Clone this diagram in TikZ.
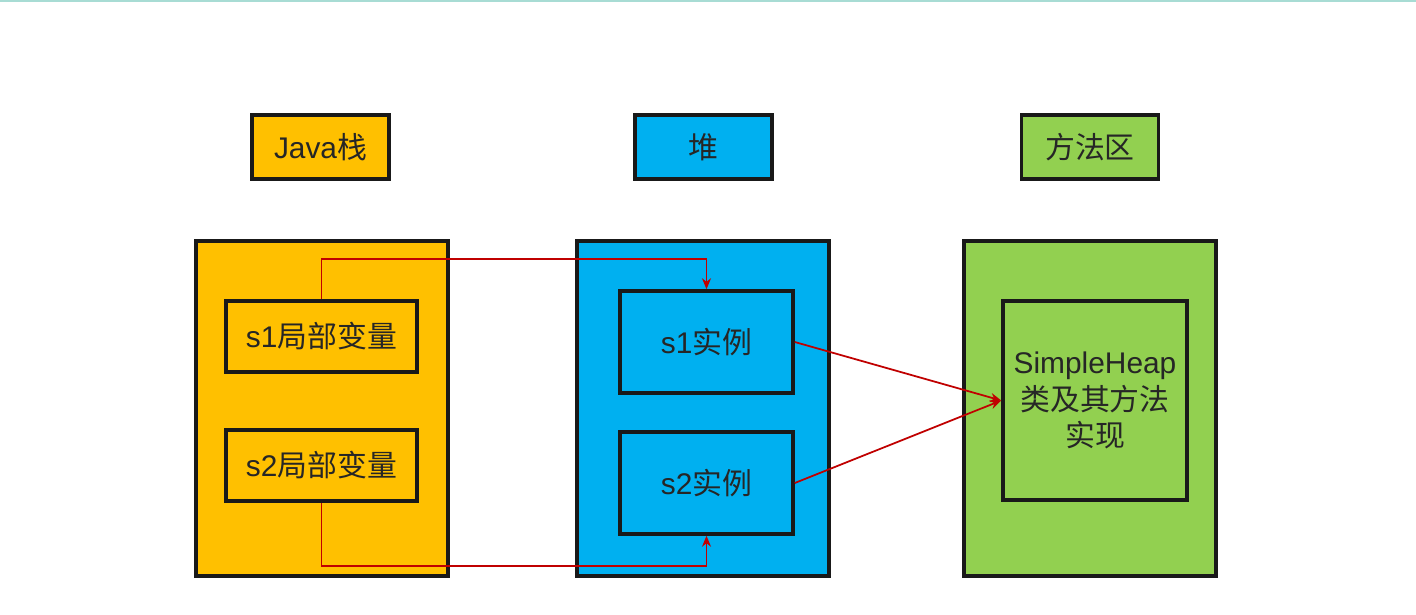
\documentclass[tikz,border=0pt]{standalone}
\usepackage{fontspec}
\setmainfont{Liberation Sans}
\newfontfamily\cjk{Noto Sans CJK SC}
\usepackage{tikz}
\usetikzlibrary{arrows.meta}

\definecolor{stackorange}{HTML}{FFC000}
\definecolor{heapblue}{HTML}{00B0F0}
\definecolor{methodgreen}{HTML}{92D050}
\definecolor{refred}{HTML}{C00000}
\definecolor{edgeteal}{HTML}{A8DCD4}

\tikzset{
	area/.style={draw=black!90, line width=2pt, text=black!85, font=\fontsize{17}{21}\selectfont, align=center, inner sep=0pt},
	title/.style={area, minimum width=2.74cm, minimum height=1.28cm},
	region/.style={area, minimum width=5.04cm, minimum height=6.7cm},
	ref/.style={draw=refred, line width=1pt, -{Stealth[length=2.2mm, width=1.8mm]}}
}

\begin{document}
\begin{tikzpicture}[x=0.02cm, y=-0.02cm]
		\useasboundingbox[fill=white] (0, 0) rectangle (1416, 615);
		\draw[edgeteal, line width=1.2pt] (0, 1) -- (1416, 1);
		
		% titles
		\node[title, fill=stackorange] (stacktitle) at (320.5, 147) {Java{\cjk 栈}};
		\node[title, fill=heapblue] (heaptitle) at (703.5, 147) {\cjk 堆};
		\node[title, fill=methodgreen] (methodtitle) at (1090, 147) {\cjk 方法区};
		
		% the three areas
		\node[region, fill=stackorange] (stack) at (322, 408.5) {};
		\node[region, fill=heapblue] (heap) at (703, 408.5) {};
		\node[region, fill=methodgreen] (method) at (1090, 408.5) {};
		
		% local variables
		\node[area, fill=stackorange, minimum width=3.82cm, minimum height=1.42cm] (s1var) at (321.5, 336.5) {s1{\cjk 局部变量}};
		\node[area, fill=stackorange, minimum width=3.82cm, minimum height=1.42cm] (s2var) at (321.5, 465.5) {s2{\cjk 局部变量}};
		
		% instances
		\node[area, fill=heapblue, minimum width=3.46cm, minimum height=2.04cm] (s1obj) at (706.5, 342) {s1{\cjk 实例}};
		\node[area, fill=heapblue, minimum width=3.46cm, minimum height=2.04cm] (s2obj) at (706.5, 483) {s2{\cjk 实例}};
		
		% class
		\node[area, fill=methodgreen, minimum width=3.68cm, minimum height=3.98cm] (heapclass) at (1095, 400.5) {SimpleHeap\\{\cjk 类及其方法}\\{\cjk 实现}};
		
		% references
		\draw[ref] (s1var.north) -- ++(0, -40) -| (s1obj.north);
		\draw[ref] (s2var.south) -- ++(0, 63) -| (s2obj.south);
		\draw[ref] (s1obj.east) -- (heapclass.west);
		\draw[ref] (s2obj.east) -- (heapclass.west);
	\end{tikzpicture}
\end{document}
